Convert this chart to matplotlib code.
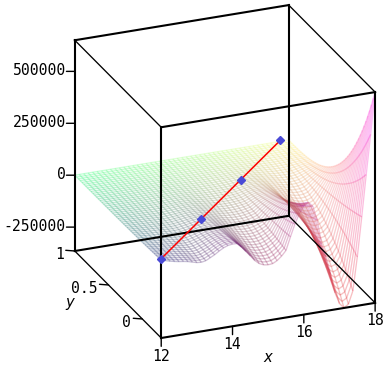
import numpy as np
import matplotlib
matplotlib.use("Agg")
import matplotlib.pyplot as plt
from mpl_toolkits.mplot3d import proj3d
from mpl_toolkits.mplot3d.art3d import Line3DCollection

X_LIM = (12, 18)
Y_LIM = (-0.28, 1)
Z_LIM = (-365000, 650000)

# mesh lines in each direction
x_values = np.linspace(12, 18, 49)
y_values = np.linspace(-0.28, 1, 49)

# height along the front edge
z_front = [10000, 4000, -2000, -7000, -11000, -14000, -18000, -24000, -30000, -32000,
           -28000, -17000, -6000, 8000, 20000, 28000, 31000, 30000, 10000, -15000,
           -40000, -66000, -84000, -94000, -97000, -95000, -84000, -66000, -42000, 20000,
           78000, 125000, 158000, 172000, 150000, 80000, -40000, -105000, -190000, -285000,
           -340000, -364000, -350000, -290000, -130000, 60000, 260000, 450000, 650000]

# how much of that height is left going back in y
y_share = [1.0, .94, .88, .824, .77, .718, .67, .623, .579, .537, .497, .459, .422, .388,
           .355, .325, .296, .269, .244, .22, .198, .178, .159, .141, .125, .11, .096, .084,
           .072, .062, .053, .044, .037, .031, .025, .02, .016, .012, .009, .007, .005, .003,
           .002, .001, .001, 0, 0, 0, 0]

# red line with its blue points
line_x = [12, 13.9, 15.8, 17.7]
line_y = [-0.28, .136, .552, .968]
line_z = [17000, 17000, 17000, 17000]

x_ticks = [12, 14, 16, 18]
x_tick_labels = ["12", "14", "16", "18"]
y_ticks = [0, .5, 1]
y_tick_labels = ["0", "0.5", "1"]
z_ticks = [-250000, 0, 250000, 500000]
z_tick_labels = ["-250000", "0", "250000", "500000"]


def mesh_segments(xx, yy, zz):
    # colour every wire by its position in the box: r=x, g=y, b=z
    pts = np.stack([xx, yy, zz], axis=-1)
    segs = np.concatenate([
        np.stack([pts[:-1, :], pts[1:, :]], axis=2).reshape(-1, 2, 3),
        np.stack([pts[:, :-1], pts[:, 1:]], axis=2).reshape(-1, 2, 3),
    ])
    mid = segs.mean(axis=1)
    colors = np.ones((len(segs), 4))
    colors[:, 0] = (mid[:, 0] - X_LIM[0]) / (X_LIM[1] - X_LIM[0])
    colors[:, 1] = (mid[:, 1] - Y_LIM[0]) / (Y_LIM[1] - Y_LIM[0])
    colors[:, 2] = np.clip((mid[:, 2] - Z_LIM[0]) / (Z_LIM[1] - Z_LIM[0]), 0, 1)
    colors[:, 3] = 0.25
    return segs, colors


def draw_box(ax):
    for y in Y_LIM:
        for z in Z_LIM:
            ax.plot(X_LIM, [y, y], [z, z], color="black", lw=1.5, zorder=5)
    for x in X_LIM:
        for z in Z_LIM:
            ax.plot([x, x], Y_LIM, [z, z], color="black", lw=0.95, zorder=5)
        for y in Y_LIM:
            ax.plot([x, x], [y, y], Z_LIM, color="black", lw=1.5, zorder=5)


def tick(ax, x, y, z, label, dx, dy, tx, ty, ha):
    # tick mark and its label, placed by offset from the projected point
    px, py, _ = proj3d.proj_transform(x, y, z, ax.get_proj())
    ax.annotate("", xy=(px, py), xytext=(dx, dy), textcoords=("offset points"),
                arrowprops=dict(arrowstyle="-", color="black", lw=1.0, shrinkA=0, shrinkB=0))
    ax.annotate(label, xy=(px, py), xytext=(tx, ty), textcoords="offset points",
                ha=ha, va="center", family="DejaVu Sans Mono", fontsize=10.6)


def main():
    fig = plt.figure(figsize=(3.87, 3.67), dpi=100)
    ax = fig.add_axes([36.5 / 387, 7 / 367, 367 / 387, 1], projection="3d", proj_type="ortho")
    ax.computed_zorder = False
    ax.set_box_aspect((1, 1, 1), zoom=1.057)
    ax.view_init(elev=24, azim=-112)
    ax.set_xlim(*X_LIM)
    ax.set_ylim(*Y_LIM)
    ax.set_zlim(*Z_LIM)
    ax.set_axis_off()

    xx, yy = np.meshgrid(x_values, y_values)
    zz = np.outer(y_share, z_front)
    segs, colors = mesh_segments(xx, yy, zz)
    ax.add_collection3d(Line3DCollection(segs, colors=colors, linewidths=0.95, zorder=2))

    draw_box(ax)

    ax.plot(line_x, line_y, line_z, color="red", lw=1.1, zorder=6)
    ax.plot(line_x, line_y, line_z, ls="none", marker="D", ms=3.6, color="#4a4ad6", zorder=7)

    for x, label in zip(x_ticks, x_tick_labels):
        tick(ax, x, Y_LIM[0], Z_LIM[0], label, 0, -6, 0, -13, "center")
    for y, label in zip(y_ticks, y_tick_labels):
        tick(ax, 12, y, Z_LIM[0], label, -6.5, 0.5, -8, -2.5, "right")
    for z, label in zip(z_ticks, z_tick_labels):
        tick(ax, 12, 1, z, label, -6, 0, -6.5, 0.5, "right")

    fig.text(268 / 387, 1 - 358 / 367, "x", style="italic", fontsize=10.6, ha="center", va="center")
    fig.text(70 / 387, 1 - 303 / 367, "y", style="italic", fontsize=10.6, ha="center", va="center")

    fig.savefig("out.png", dpi=100)


if __name__ == "__main__":
    main()
